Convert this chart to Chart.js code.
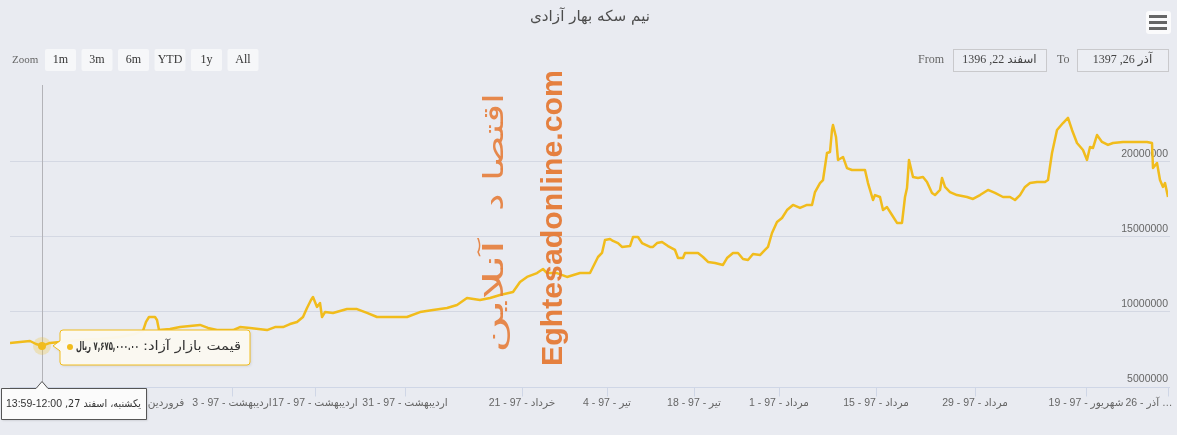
<!DOCTYPE html>
<html><head><meta charset="utf-8">
<script src="https://cdn.jsdelivr.net/npm/chart.js@4.4.1/dist/chart.umd.min.js"></script>
<style>html,body{margin:0;padding:0;background:#e9ebf1;overflow:hidden}canvas{display:block}</style>
</head><body><canvas id="c" width="1177" height="435"></canvas>
<script>
// ---- data ----
const title = 'نیم سکه بهار آزادی';
const seriesName = 'قیمت بازار آزاد';
const unit = 'ریال';
const tradeIdx = [0,5,10,13,16,20,25,35,45,55,62.5,66.5,68,69.5,72.5,73.5,74.5,80,85,90,95,99,103.5,111.5,115,120,128.5,132.5,136.5,140,143.5,146.5,148.5,150.5,151.5,152.5,153.5,155,156,157.5,161.5,168.5,173.5,178.5,183.5,191.5,198.5,205,211.5,218.5,223.5,228.5,235,240,245,251.5,255,258.5,263.5,266.5,268.5,273.5,278.5,285,290,292.5,294,296,297.5,300,301.5,304,306,310,311.5,314,316,320,321.5,323.5,326,329,332.5,334,336.5,337.5,344,346.5,349,352.5,356.5,358.5,361.5,364,366.5,369,371.5,375,377.5,379,381,383.5,386,388.5,391.5,395,398.5,401,402.5,405,406.5,408.5,410,411,411.5,413,414,416.5,418.5,421,427.5,429,431.5,432.5,435,436.5,438.5,441,443.5,446,447.5,448.5,449.5,451.5,454,456.5,458.5,461,462.5,465,466,467.5,470,473.5,478.5,481.5,485,489,492.5,496.5,500,502.5,505,507.5,510,513.5,517.5,519,521,523.5,526.5,529,531,533.5,536.5,538.5,540,541.5,543.5,546,549,551.5,556.5,561.5,568.5,571,571.5,573.5,575,576.5,577.5,579];
const price = [7870000,7930000,8000000,7800000,7675000,7870000,7930000,8070000,8130000,8270000,8470000,8670000,9270000,9600000,9600000,9400000,8730000,8800000,8930000,9000000,9070000,8870000,8730000,8730000,8930000,8870000,8730000,8930000,8930000,9130000,9270000,9600000,10200000,10730000,10930000,10600000,10270000,10530000,9600000,9930000,9870000,10130000,10130000,9870000,9600000,9600000,9600000,9930000,10070000,10200000,10400000,10870000,10730000,10870000,11070000,11270000,11930000,12270000,12530000,12800000,12530000,12530000,12270000,12530000,12530000,13200000,13600000,13870000,14730000,14800000,14670000,14530000,14270000,14330000,14930000,14930000,14530000,14270000,14270000,14530000,14600000,14330000,14070000,13530000,13530000,13870000,13870000,13600000,13270000,13200000,13070000,13530000,13870000,13870000,13470000,13400000,13800000,13730000,14070000,14270000,15200000,15930000,16200000,16730000,17070000,16870000,17070000,17070000,17930000,18530000,18730000,20530000,20600000,22070000,22400000,21600000,20070000,20270000,19530000,19400000,19400000,18530000,17400000,17730000,17600000,16730000,16930000,16400000,15870000,15870000,17600000,18200000,20070000,18930000,18870000,18930000,18600000,17870000,17730000,18070000,18870000,18270000,17930000,17730000,17600000,17470000,17730000,18070000,17870000,17600000,17600000,17400000,17730000,18270000,18530000,18600000,18600000,18730000,20530000,22070000,22530000,22870000,22070000,21200000,20730000,20070000,20930000,20870000,21730000,21270000,21070000,21200000,21270000,21270000,21270000,21200000,19530000,19870000,18730000,18270000,18530000,17600000];
const tickIdx = [67.5,111,152.5,197.5,256,298.5,342,384.5,433,482.5,538,579];
const tickLabels = ['20 - 97 - فروردین','3 - 97 - اردیبهشت','17 - 97 - اردیبهشت','31 - 97 - اردیبهشت','21 - 97 - خرداد','4 - 97 - تیر','18 - 97 - تیر','1 - 97 - مرداد','15 - 97 - مرداد','29 - 97 - مرداد','19 - 97 - شهریور','26 - آذر …'];
const yTicks = [5000000,10000000,15000000,20000000];
const yMin = 5000000, yMax = 25000000;
const xMax = 579;
const hoverIndex = 4;
const hoverDay = 'یکشنبه، اسفند 27,';
const hoverTime = '13:59-12:00';
const zoomButtons = ['1m','3m','6m','YTD','1y','All'];
const fromDate = 'اسفند 22, 1396';
const toDate = 'آذر 26, 1397';
const wmEn = 'Eghtesadonline.com';
const wmFa1 = 'اقتصا د';
const wmFa2 = 'آنلاین';

// ---- styles ----
const BG = '#e9ebf1';
const LINE = '#f1bc1c';
const FA_FONT = '"DejaVu Sans"';
const fa = s => s.replace(/\d/g, d => '۰۱۲۳۴۵۶۷۸۹'[d]);
const fmt = v => fa(v.toLocaleString('en-US',{minimumFractionDigits:2,maximumFractionDigits:2}));

function rr(c,x,y,w,h,r){c.beginPath();c.roundRect(x,y,w,h,r);}
function fitText(c, s, x, y, target, align){
  const w = c.measureText(s).width;
  const k = Math.min(1.4, target / w);
  c.save(); c.translate(x, y); c.scale(k, 1); c.textAlign = align; c.fillText(s, 0, 0); c.restore();
}

const deco = {
  id:'deco',
  beforeDraw(chart){
    const c = chart.ctx; c.save();
    c.fillStyle = BG; c.fillRect(0,0,chart.width,chart.height);
    c.direction='rtl'; c.font = '15px '+FA_FONT; c.fillStyle='#4d4d4d';
    c.textAlign='center'; c.textBaseline='middle';
    fitText(c, title, 590, 17, 120, 'center');
    c.direction='ltr';
    c.fillStyle='#fbfbfc'; rr(c,1146,11,25,23,3); c.fill();
    c.fillStyle='#666';
    [15,21,27].forEach(y=>c.fillRect(1149,y,18,3));
    c.font='11px "Liberation Serif"'; c.fillStyle='#666'; c.textAlign='left';
    c.fillText('Zoom', 12, 60);
    c.font='12px "Liberation Serif"';
    zoomButtons.forEach((b,i)=>{
      const x = 45 + i*36.5;
      c.fillStyle='#f6f7f9'; rr(c,x,49,31,22,2); c.fill();
      c.fillStyle='#333'; c.textAlign='center'; c.fillText(b, x+15.5, 60);
    });
    c.fillStyle='#666'; c.textAlign='left';
    c.fillText('From', 918, 60);
    c.fillText('To', 1057, 60);
    c.strokeStyle='#c9c9cc'; c.lineWidth=1;
    c.fillStyle='#eceef3';
    c.fillRect(953,49,93,22); c.strokeRect(953.5,49.5,93,22);
    c.fillRect(1077,49,91,22); c.strokeRect(1077.5,49.5,91,22);
    c.fillStyle='#444'; c.textAlign='center'; c.direction='rtl';
    c.font='12px "Liberation Serif", '+FA_FONT;
    c.fillText(fromDate, 999.5, 60);
    c.fillText(toDate, 1122.5, 60);
    c.restore();
  },
  beforeDatasetsDraw(chart){
    const c = chart.ctx, xs = chart.scales.x, ys = chart.scales.y, a = chart.chartArea;
    c.save();
    c.lineWidth=1;
    c.strokeStyle='rgba(208,213,224,0.85)';
    yTicks.forEach(v=>{
      if (v===yMin) return;
      const y = Math.round(ys.getPixelForValue(v))+0.5;
      c.beginPath(); c.moveTo(a.left,y); c.lineTo(a.right+2,y); c.stroke();
    });
    const by = Math.round(ys.getPixelForValue(yMin))+1.5;
    c.strokeStyle='#cfd6e6';
    c.beginPath(); c.moveTo(a.left,by); c.lineTo(a.right+2,by); c.stroke();
    tickIdx.forEach(t=>{
      const x = Math.round(xs.getPixelForValue(t))+0.5;
      c.beginPath(); c.moveTo(x,by); c.lineTo(x,by+9); c.stroke();
    });
    c.font='10.5px "Liberation Sans", '+FA_FONT; c.fillStyle='#666';
    c.textBaseline='middle'; c.direction='ltr';
    let prevRight = 0;
    tickLabels.forEach((l,i)=>{
      const x = xs.getPixelForValue(tickIdx[i]);
      if (i === tickLabels.length-1){
        c.textAlign='left'; c.fillText(l, prevRight+2, 403);
      } else {
        c.textAlign='center'; c.fillText(l, x, 403);
        prevRight = x + c.measureText(l).width/2;
      }
    });
    c.font='10.5px "Liberation Sans"'; c.textAlign='right'; c.textBaseline='bottom'; c.fillStyle='#666';
    yTicks.forEach(v=>{
      const y = ys.getPixelForValue(v);
      c.fillText(String(v), a.right, y-2);
    });
    const p = chart.getDatasetMeta(0).data[hoverIndex];
    const cx = Math.round(p.x)+0.5;
    c.strokeStyle='#b3b3b8';
    c.beginPath(); c.moveTo(cx,a.top-1); c.lineTo(cx,by); c.stroke();
    c.restore();
  },
  afterDatasetsDraw(chart){
    const c = chart.ctx;
    c.save();
    c.fillStyle='rgba(228,118,48,0.92)';
    c.font='bold 30px "Liberation Sans"';
    c.textAlign='left'; c.textBaseline='alphabetic'; c.direction='ltr';
    let w = c.measureText(wmEn).width;
    c.save(); c.translate(562,366); c.rotate(-Math.PI/2); c.scale(296/w,1);
    c.fillText(wmEn,0,0); c.restore();
    c.font='28px '+FA_FONT; c.direction='rtl'; c.textAlign='right';
    c.fillStyle='rgba(230,125,58,0.9)';
    [[wmFa1,93,118],[wmFa2,240,113]].forEach(([s,top,len])=>{
      const ww = c.measureText(s).width;
      c.save(); c.translate(503,top); c.rotate(-Math.PI/2); c.scale(len/ww,1);
      c.fillText(s,0,0); c.restore();
    });
    c.direction='ltr';
    const p = chart.getDatasetMeta(0).data[hoverIndex];
    c.fillStyle='rgba(242,190,29,0.25)';
    c.beginPath(); c.arc(p.x,p.y,9,0,Math.PI*2); c.fill();
    c.fillStyle=LINE;
    c.beginPath(); c.arc(p.x,p.y,4,0,Math.PI*2); c.fill();
    const tx=60, ty=330, tw=190, th=35;
    c.save();
    c.shadowColor='rgba(0,0,0,0.12)'; c.shadowOffsetX=1; c.shadowOffsetY=1; c.shadowBlur=3;
    c.fillStyle='rgba(252,250,241,0.96)';
    c.beginPath();
    c.moveTo(tx+3,ty); c.lineTo(tx+tw-3,ty); c.quadraticCurveTo(tx+tw,ty,tx+tw,ty+3);
    c.lineTo(tx+tw,ty+th-3); c.quadraticCurveTo(tx+tw,ty+th,tx+tw-3,ty+th);
    c.lineTo(tx+3,ty+th); c.quadraticCurveTo(tx,ty+th,tx,ty+th-3);
    c.lineTo(tx,p.y+5); c.lineTo(tx-7,p.y); c.lineTo(tx,p.y-5);
    c.lineTo(tx,ty+3); c.quadraticCurveTo(tx,ty,tx+3,ty); c.closePath();
    c.fill(); c.restore();
    c.strokeStyle=LINE; c.lineWidth=1;
    c.save(); c.translate(0.5,0.5); c.stroke(); c.restore();
    c.textBaseline='middle';
    c.direction='rtl';
    c.font='12.5px '+FA_FONT; c.fillStyle='#333';
    fitText(c, seriesName+':', 241, ty+17, 98, 'right');
    c.font='bold 12px '+FA_FONT;
    fitText(c, fmt(price[hoverIndex])+' '+unit, 139, ty+17, 63, 'right');
    c.fillStyle=LINE;
    c.beginPath(); c.arc(70, ty+17, 3, 0, Math.PI*2); c.fill();
    c.direction='ltr';
    const bx=1.5, byy=388.5, bw=145, bh=31;
    c.beginPath();
    c.moveTo(bx,byy); c.lineTo(p.x-6,byy); c.lineTo(p.x,byy-7); c.lineTo(p.x+6,byy);
    c.lineTo(bx+bw,byy); c.lineTo(bx+bw,byy+bh); c.lineTo(bx,byy+bh); c.closePath();
    c.save(); c.shadowColor='rgba(0,0,0,0.15)'; c.shadowOffsetX=1; c.shadowOffsetY=1; c.shadowBlur=2;
    c.fillStyle='#fbfbfb'; c.fill(); c.restore();
    c.strokeStyle='#555'; c.stroke();
    c.font='10.5px "Liberation Sans"'; c.fillStyle='#333'; c.textAlign='left';
    c.fillText(hoverTime, 6, byy+bh/2+0.5);
    const tw2 = c.measureText(hoverTime).width;
    c.direction='rtl'; c.font='10.5px '+FA_FONT;
    fitText(c, hoverDay, 141, byy+bh/2+0.5, 141-(6+tw2+3), 'right');
    c.restore();
  }
};

new Chart(document.getElementById('c'), {
  type:'line',
  data:{ datasets:[{
    label: seriesName,
    data: tradeIdx.map((x,i)=>({x, y: price[i]})),
    borderColor: LINE, borderWidth: 2.5, pointRadius: 0, tension: 0,
    borderJoinStyle:'round', fill:false
  }]},
  options:{
    responsive:false, animation:false, devicePixelRatio:1,
    layout:{padding:{left:10, right:9, top:86, bottom:49}},
    plugins:{legend:{display:false}, tooltip:{enabled:false}},
    scales:{
      x:{type:'linear', min:0, max:xMax, display:false},
      y:{min:yMin, max:yMax, display:false}
    }
  },
  plugins:[deco]
});
</script>
</body></html>
